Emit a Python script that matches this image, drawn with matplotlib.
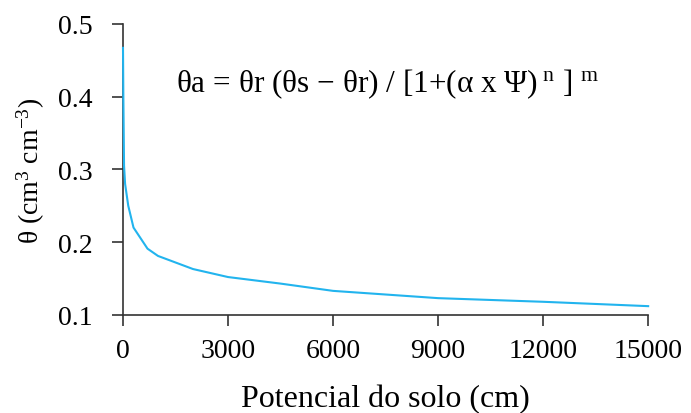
import matplotlib
matplotlib.use("Agg")
import matplotlib.pyplot as plt

# potencial do solo (cm) e umidade (cm3 cm-3)
potencial = [0, 10, 30, 60, 150, 300, 700, 1000, 2000, 3000, 4500, 6000, 9000, 12000, 15000]
theta = [0.467, 0.40, 0.305, 0.28, 0.25, 0.220, 0.191, 0.181, 0.163, 0.152, 0.143, 0.133, 0.123, 0.118, 0.112]

xticks = [0, 3000, 6000, 9000, 12000, 15000]
yticks = [0.1, 0.2, 0.3, 0.4, 0.5]

plt.rcParams['font.family'] = ['Liberation Serif', 'DejaVu Serif']
plt.rcParams['mathtext.fontset'] = 'custom'
plt.rcParams['mathtext.rm'] = 'Liberation Serif'
plt.rcParams['mathtext.it'] = 'Liberation Serif:italic'

fig = plt.figure(figsize=(6.91, 4.14), dpi=100)
ax = fig.add_axes([0.178, 0.237, 0.760, 0.703])

ax.plot(potencial, theta, color='#22B4EE', linewidth=1.5, clip_on=False, zorder=3)

ax.set_xlim(0, 15000)
ax.set_ylim(0.1, 0.5)
ax.set_xticks(xticks)
ax.set_xticklabels([str(v) for v in xticks])
ax.set_yticks(yticks)
ax.set_yticklabels([f"{v:.1f}" for v in yticks])

for s in ['top', 'right']:
    ax.spines[s].set_visible(False)
for s in ['left', 'bottom']:
    ax.spines[s].set_color('#333333')
    ax.spines[s].set_linewidth(1.2)
ax.tick_params(direction='out', length=8, width=1.2, color='#333333', labelsize=20)
ax.tick_params(axis='x', pad=9)
ax.tick_params(axis='y', pad=14)

ax.set_xlabel('Potencial do solo (cm)', fontsize=23, labelpad=15)
ax.set_ylabel(r'θ (cm$^{3}$ cm$^{\mathrm{-3}}$)', fontsize=20, labelpad=8)

ax.text(0.10, 0.795,
        r'θa = θr (θs − θr) / [1+(α x Ψ)$^{\mathrm{\ n}}$ ] $^{\mathrm{m}}$',
        transform=ax.transAxes, fontsize=22.5, va='center', ha='left')

fig.savefig('out.png', dpi=100)
